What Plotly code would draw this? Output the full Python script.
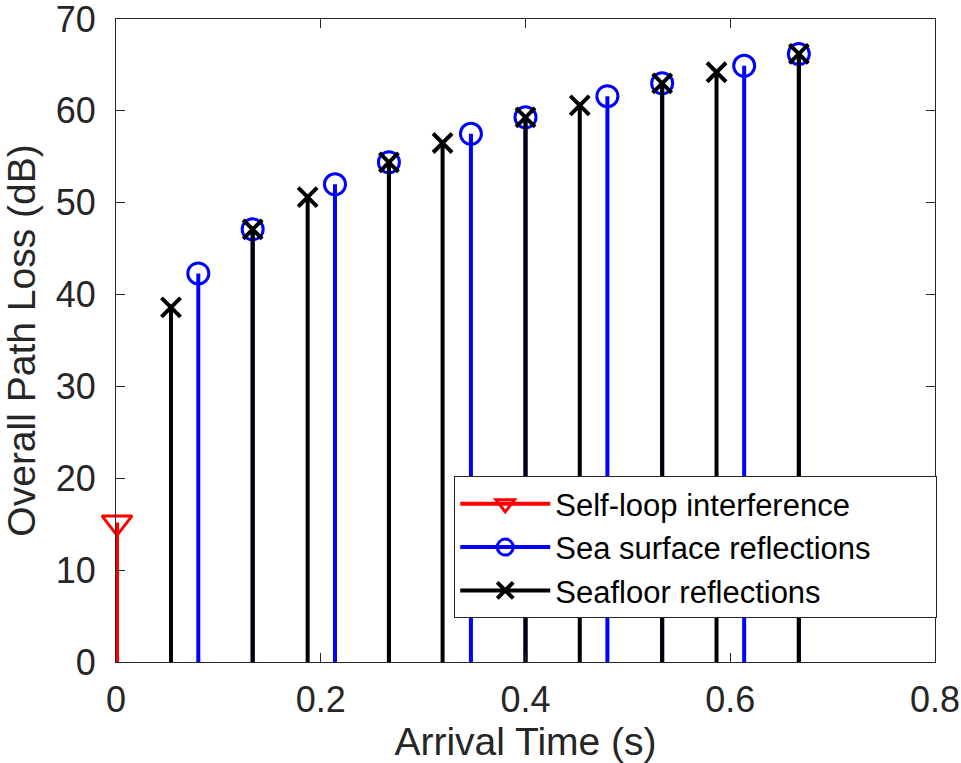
import plotly.graph_objects as go

# ---- data ----
self_loop_t = [0.001]
self_loop_db = [15.2]

surface_t = [0.0804, 0.1335, 0.2139, 0.2666, 0.3467, 0.4000, 0.4800, 0.5335, 0.6136, 0.6670]
surface_db = [42.3, 47.1, 52.0, 54.4, 57.5, 59.3, 61.6, 63.0, 64.9, 66.2]

floor_t = [0.0537, 0.1335, 0.1872, 0.2666, 0.3190, 0.4000, 0.4530, 0.5335, 0.5866, 0.6670]
floor_db = [38.6, 47.1, 50.6, 54.4, 56.5, 59.3, 60.6, 63.0, 64.2, 66.2]

x_ticks = [0, 0.2, 0.4, 0.6, 0.8]
x_tick_labels = ["0", "0.2", "0.4", "0.6", "0.8"]
y_ticks = [0, 10, 20, 30, 40, 50, 60, 70]

FONT = "Liberation Sans, Arial, Helvetica, sans-serif"
AX = "#262626"
PAD = "\u00a0" * 7

fig = go.Figure()


def add_stem(t, v, name, color, symbol, msize, mline):
    xs, ys = [], []
    for ti, vi in zip(t, v):
        xs += [ti, ti, None]
        ys += [0, vi, None]
    fig.add_trace(go.Scatter(x=xs, y=ys, mode="lines",
                             line=dict(color=color, width=4),
                             cliponaxis=False,
                             showlegend=False, hoverinfo="skip"))
    fig.add_trace(go.Scatter(x=t, y=v, mode="markers",
                             marker=dict(symbol=symbol, size=msize, color=color,
                                         line=dict(color=color, width=mline)),
                             cliponaxis=False,
                             showlegend=False))
    fig.add_trace(go.Scatter(x=[None], y=[None], mode="lines+markers", name=name + PAD,
                             line=dict(color=color, width=4),
                             marker=dict(symbol=symbol, size=msize, color=color,
                                         line=dict(color=color, width=mline))))


add_stem(self_loop_t, self_loop_db, "Self-loop interference", "#FF0000",
         "triangle-down-open", 26, 3)
add_stem(surface_t, surface_db, "Sea surface reflections", "#0000FF",
         "circle-open", 21, 3)
add_stem(floor_t, floor_db, "Seafloor reflections", "#000000",
         "x-thin-open", 19, 4)

fig.update_layout(
    width=961, height=763,
    margin=dict(l=116, r=26, t=19, b=101, autoexpand=False),
    paper_bgcolor="white", plot_bgcolor="white",
    font=dict(family=FONT, color=AX),
    legend=dict(x=0.413, y=0.289, xanchor="left", yanchor="top",
                bgcolor="white", bordercolor=AX, borderwidth=1,
                font=dict(size=31, color="black", family=FONT),
                itemwidth=90, tracegroupgap=0),
    xaxis=dict(range=[0, 0.8], tickvals=x_ticks, ticktext=x_tick_labels,
               automargin=False,
               showline=True, mirror="ticks", linecolor=AX, linewidth=1,
               ticks="inside", ticklen=9, tickcolor=AX, tickwidth=1,
               showgrid=False, zeroline=False, ticklabeloverflow="allow",
               tickfont=dict(size=36, color=AX), ticklabelstandoff=6,
               title=dict(text="Arrival Time (s)", font=dict(size=39, color=AX), standoff=18)),
    yaxis=dict(range=[0, 70], tickvals=y_ticks,
               automargin=False,
               showline=True, mirror="ticks", linecolor=AX, linewidth=1,
               ticks="inside", ticklen=9, tickcolor=AX, tickwidth=1,
               showgrid=False, zeroline=False, ticklabeloverflow="allow",
               tickfont=dict(size=36, color=AX), ticklabelstandoff=12,
               title=dict(text="Overall Path Loss (dB)", font=dict(size=39, color=AX), standoff=10)),
)

fig.write_html("out.html")
